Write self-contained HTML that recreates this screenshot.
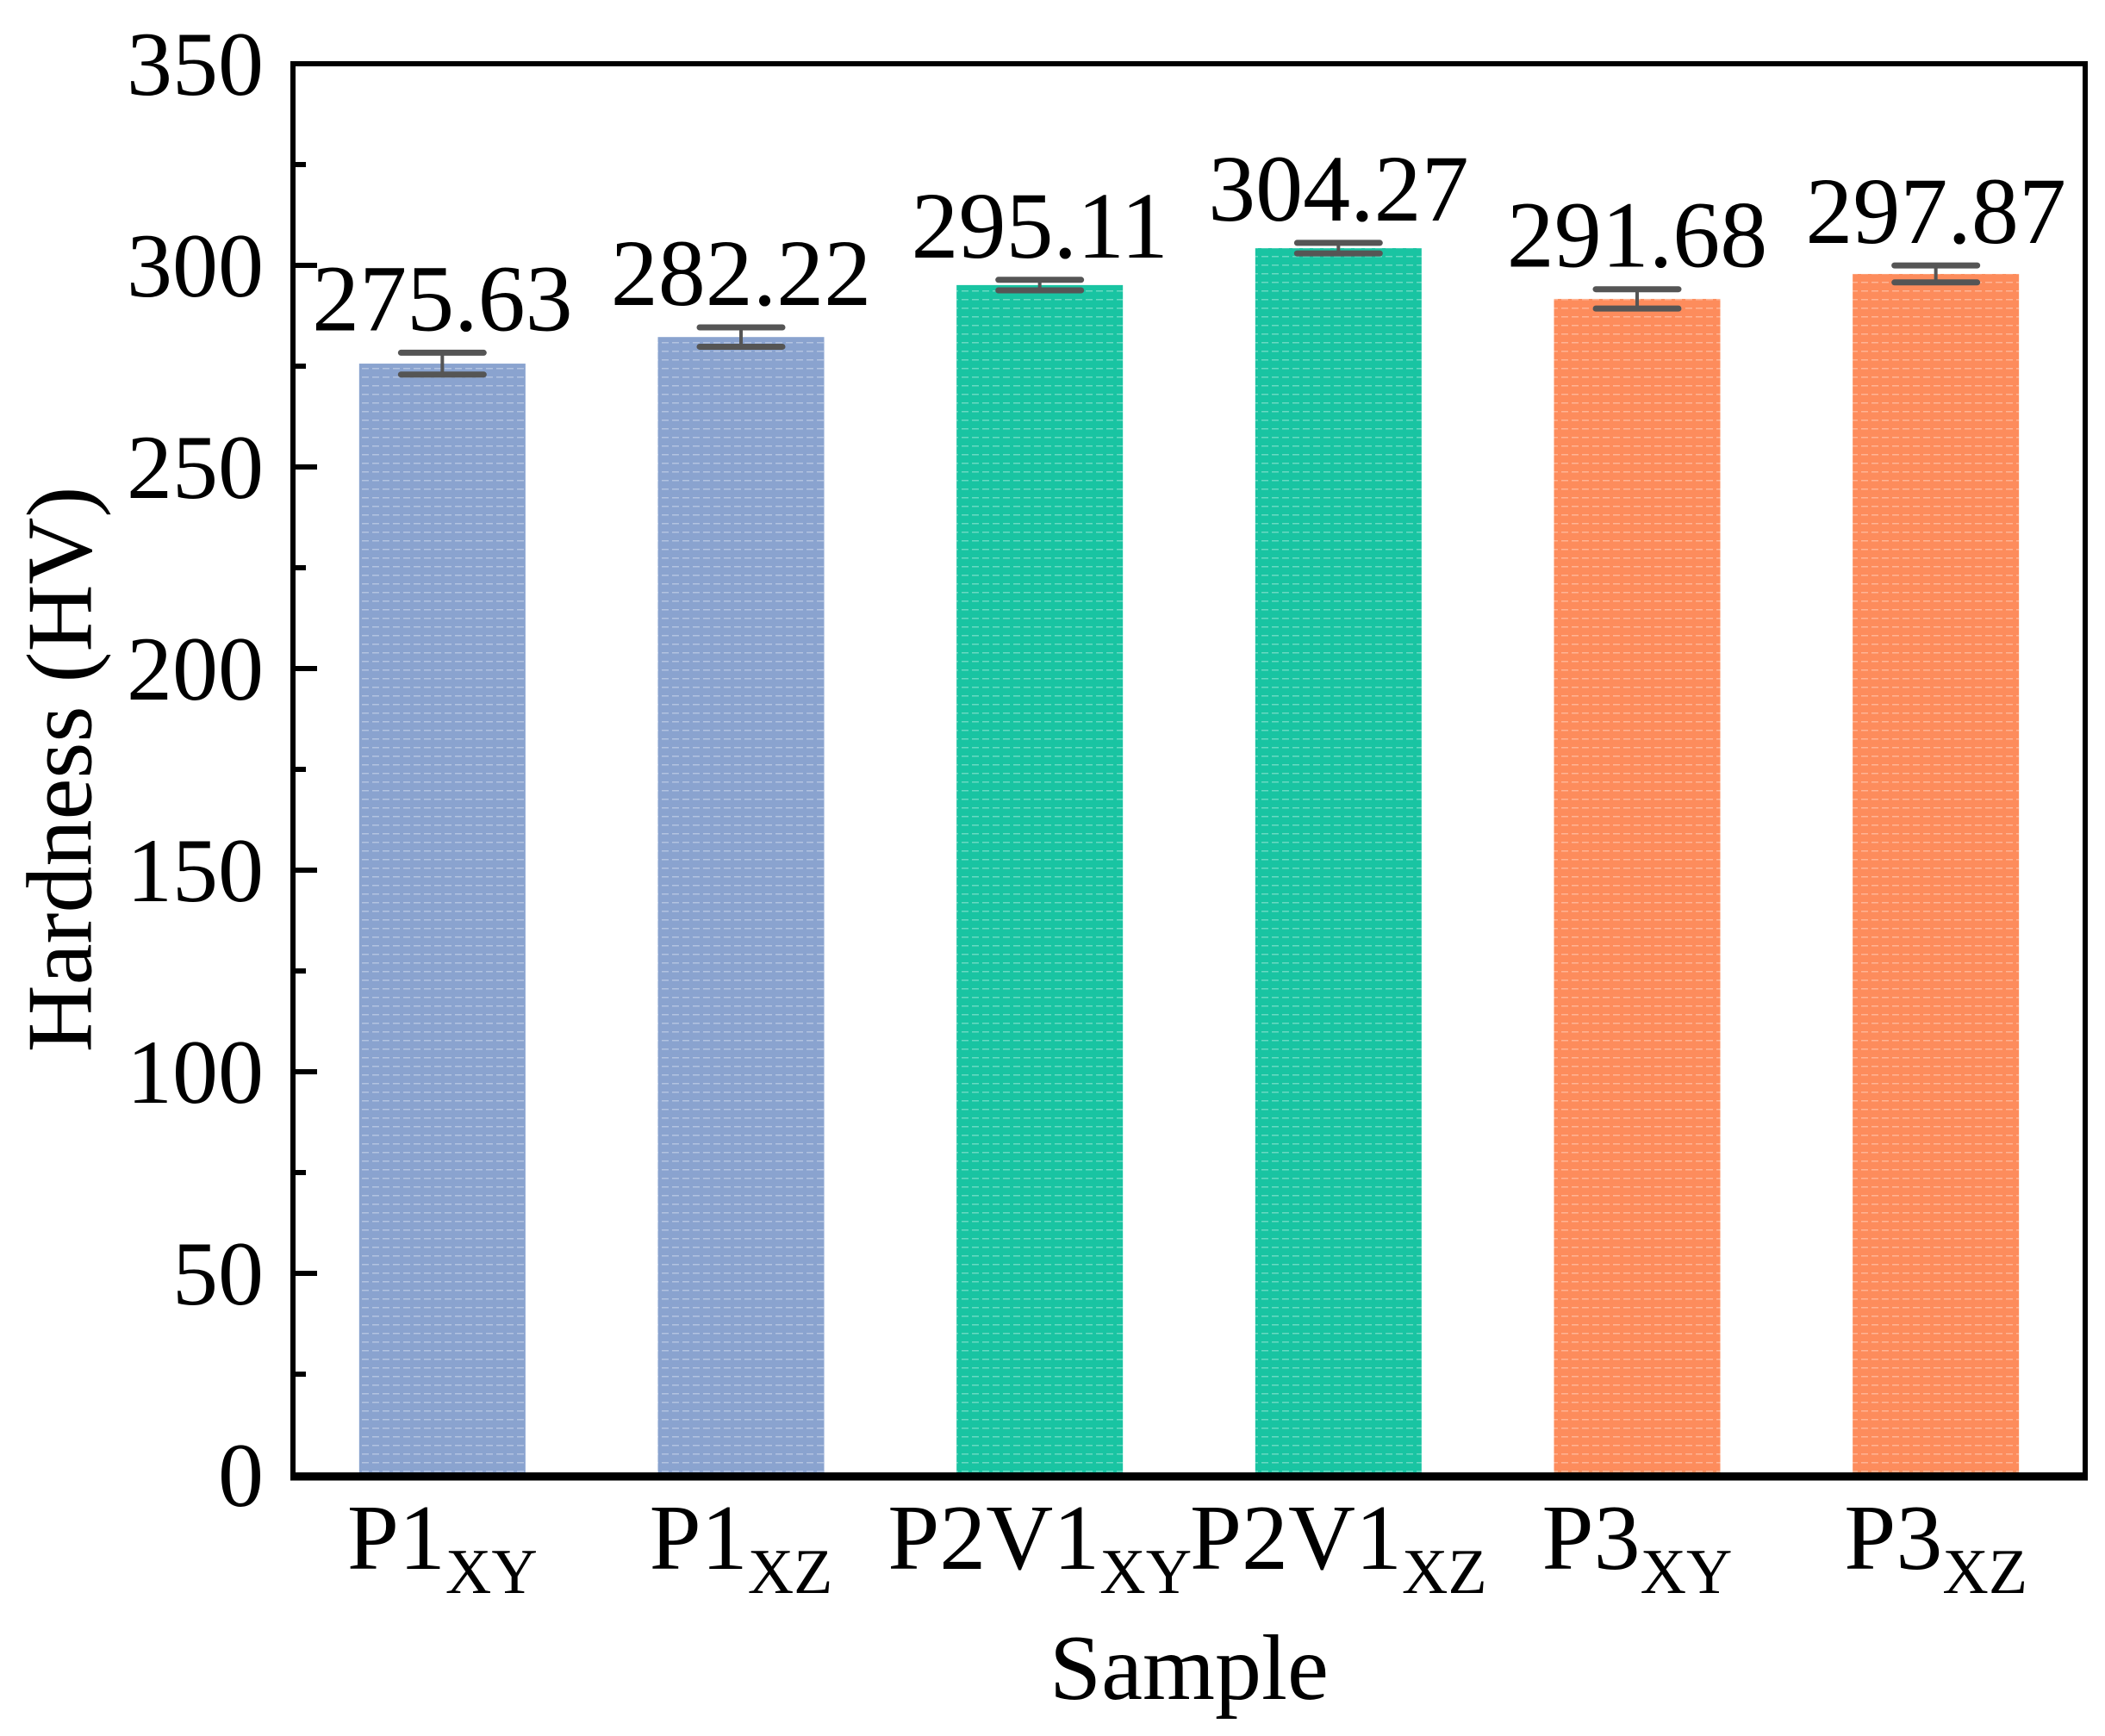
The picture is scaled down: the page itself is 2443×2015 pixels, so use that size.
<!DOCTYPE html>
<html><head><meta charset="utf-8"><style>
html,body{margin:0;padding:0;background:#fff;}
svg{display:block;font-family:"Liberation Serif",serif;}
</style></head><body>
<svg id="chart" width="2443" height="2015" viewBox="0 0 2443 2015">
<defs>
<pattern id="stripes" width="12" height="10" patternUnits="userSpaceOnUse">
<rect x="0" y="7" width="8" height="1.5" fill="#ffffff" opacity="0.35"/>
</pattern>
</defs>
<g id="bars"></g>
<g id="errs"></g>
<g id="vals"></g>
<g id="axes"></g>
<text x="70" y="893" font-size="108" text-anchor="middle" transform="rotate(-90 70 893)" dominant-baseline="central">Hardness (HV)</text>
<text x="1380" y="1972" font-size="108" text-anchor="middle">Sample</text>
</svg>
<script>
const categories = ["P1", "P1", "P2V1", "P2V1", "P3", "P3"];
const subscripts = ["XY", "XZ", "XY", "XZ", "XY", "XZ"];
const values = [275.63, 282.22, 295.11, 304.27, 291.68, 297.87];
const errors = [2.7, 2.4, 1.3, 1.3, 2.4, 2.1];
const valueLabels = ["275.63", "282.22", "295.11", "304.27", "291.68", "297.87"];
const colors = ["#8aa3cf", "#8aa3cf", "#19c4a2", "#19c4a2", "#fd8c5c", "#fd8c5c"];
const yTicks = [0, 50, 100, 150, 200, 250, 300, 350];

const NS = "http://www.w3.org/2000/svg";
const L = 340, R = 2420, T = 74, B = 1712;
const yMin = 0, yMax = 350;
function y(v){ return B - (v - yMin) / (yMax - yMin) * (B - T); }
const band = (R - L) / categories.length;
function xc(i){ return L + band * (i + 0.5); }
const barW = 193;
function mk(tag, attrs, parent){ const e = document.createElementNS(NS, tag); for (const k in attrs) e.setAttribute(k, attrs[k]); parent.appendChild(e); return e; }

const gb = document.getElementById("bars"), ge = document.getElementById("errs"), gv = document.getElementById("vals"), ga = document.getElementById("axes");
values.forEach((v, i) => {
  const r = mk("rect", {x: xc(i) - barW/2, y: y(v), width: barW, height: y(0) - y(v), fill: colors[i]}, gb);
  
  
  const s = mk("rect", {x: xc(i) - barW/2, y: y(v), width: barW, height: y(0) - y(v), fill: "url(#stripes)"}, gb);
  
  
  const e = errors[i], cw = 48;
  const eg = mk("g", {stroke: "#555", "stroke-width": 7, "stroke-linecap": "round"}, ge);
  
  
  mk("line", {x1: xc(i), x2: xc(i), y1: y(v + e), y2: y(v - e), "stroke-width": 4}, eg);
  mk("line", {x1: xc(i) - cw, x2: xc(i) + cw, y1: y(v + e), y2: y(v + e)}, eg);
  mk("line", {x1: xc(i) - cw, x2: xc(i) + cw, y1: y(v - e), y2: y(v - e)}, eg);
  const t = mk("text", {x: xc(i), y: y(v + e) - 26, "font-size": 110, "text-anchor": "middle"}, gv);
  t.textContent = valueLabels[i];
  
  
  const xl = mk("text", {x: xc(i), y: 1821, "font-size": 108, "text-anchor": "middle"}, ga);
  
  
  const m = mk("tspan", {}, xl); m.textContent = categories[i];
  const sb = mk("tspan", {"font-size": 74, dy: 28}, xl); sb.textContent = subscripts[i];
});
// axes frame
const frame = mk("rect", {x: L, y: T, width: R - L, height: B - T, fill: "none", stroke: "#000", "stroke-width": 6}, ga);


const xb = mk("line", {x1: L - 3, x2: R + 3, y1: B + 2, y2: B + 2, stroke: "#000", "stroke-width": 9}, ga);


yTicks.forEach(t => {
  const tk = mk("line", {x1: L, x2: L + 28, y1: y(t), y2: y(t), stroke: "#000", "stroke-width": 6}, ga);
  
  
  const lb = mk("text", {x: 306, y: y(t) + 36, "font-size": 106, "text-anchor": "end"}, ga);
  lb.textContent = t;
  
  
  if (t < yMax) {
    const mt = mk("line", {x1: L, x2: L + 15, y1: y(t + 25), y2: y(t + 25), stroke: "#000", "stroke-width": 6}, ga);
    
    
  }
});
</script>
</body></html>
